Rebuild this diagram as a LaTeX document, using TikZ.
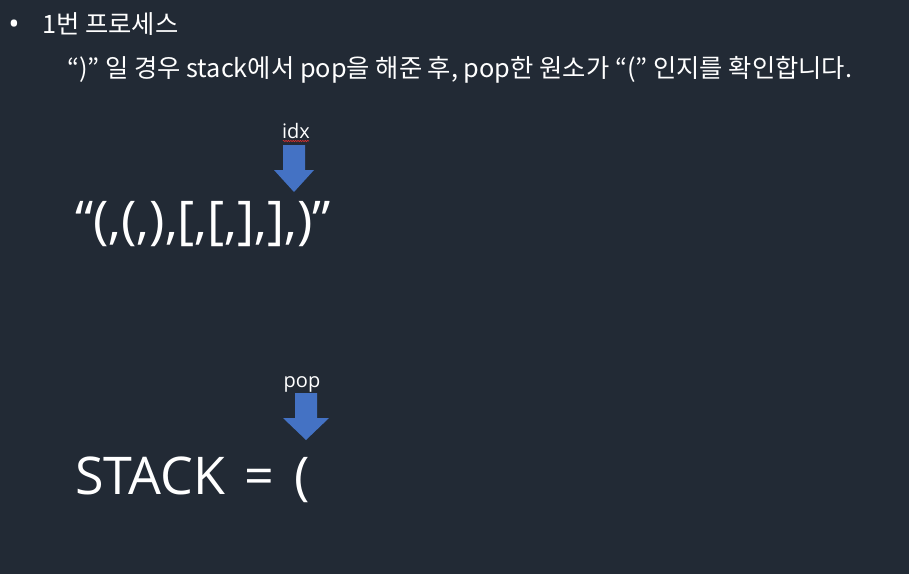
\documentclass[tikz,border=0pt]{standalone}
\usepackage{fontspec}
\setmainfont{Open Sans}
\newfontfamily\krfont{Noto Sans CJK KR}
\usepackage{tikz}
\usetikzlibrary{positioning,calc,decorations.pathmorphing}
\definecolor{PPTbg}{HTML}{222A35}
\definecolor{PPTblue}{HTML}{4472C4}
\definecolor{PPTtext}{HTML}{FFFFFF}
\definecolor{PPTsquig}{HTML}{E03030}
\tikzset{
  bodytext/.style={text=PPTtext, inner sep=0pt, font=\krfont\fontsize{25.3}{30}\selectfont},
  bigtext/.style={text=PPTtext, inner sep=0pt, font=\fontsize{52}{60}\selectfont},
  marktext/.style={text=PPTtext, inner sep=0pt, font=\fontsize{20}{24}\selectfont},
  pics/downarrow/.style={code={
    \fill[PPTblue] (-11,0) -- (11,0) -- (11,25) -- (#1,25) -- (0,47) -- (-#1,25) -- (-11,25) -- cycle;}},
  pics/downarrow/.default=20
}

\begin{document}
\begin{tikzpicture}[x=1pt, y={(0pt,-1pt)}]
\fill[PPTbg] (0,0) rectangle (909,574);
\useasboundingbox (0,0) rectangle (909,574);
% bullet line
\node[marktext, font=\fontsize{30}{30}\selectfont] (dot) at (14,27) {•};
\node[bodytext, anchor=base west] (head) at (42,33) {1번 프로세스};
\node[bodytext, anchor=base west] (rule) at (67,77) {“)” 일 경우 stack에서 pop을 해준 후, pop한 원소가 “(” 인지를 확인합니다.};
% input string with idx
\node[marktext, anchor=base] (idx) at (296,138) {idx};
\draw[PPTsquig, line width=0.6pt, decorate, decoration={snake, amplitude=0.7pt, segment length=2.4pt}]
  ($(idx.base west)+(1,3)$) -- ($(idx.base east)+(-1,3)$);
\pic at (294,145) {downarrow=20};
\node[bigtext, anchor=base west] (str) at (75,238) {“(,(,),[,[,],],)”};
% stack with pop
\node[marktext, anchor=base] (pop) at (302,387) {pop};
\pic at (306,393) {downarrow=23};
\node[bigtext, anchor=base west] (stack) at (75,494) {STACK\hspace{6pt} =\hspace{6pt} (};
\end{tikzpicture}
\end{document}
